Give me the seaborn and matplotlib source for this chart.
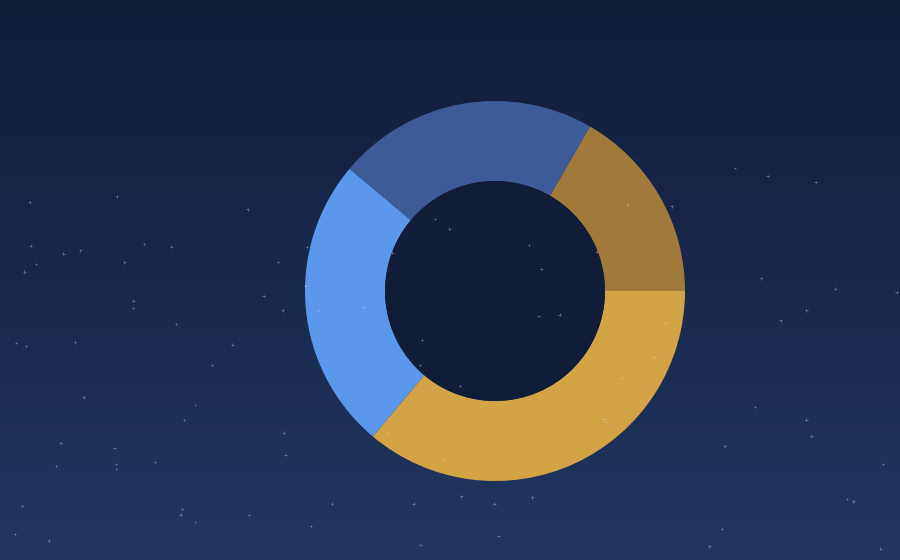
import numpy as np
import matplotlib
matplotlib.use("Agg")
import matplotlib.pyplot as plt
import seaborn as sns
from matplotlib.colors import LinearSegmentedColormap

# slice data, counter-clockwise from 3 o'clock
segments = ["Segment A", "Segment B", "Segment C", "Segment D"]
values = [60, 80, 90, 130]
slice_colors = ["#a0793b", "#3d5c97", "#5b98ec", "#d3a446"]

sns.set_theme(style="white")

W, H = 900, 560
fig = plt.figure(figsize=(9, 5.6), dpi=100)
ax = fig.add_axes([0, 0, 1, 1])
ax.set_xlim(0, W)
ax.set_ylim(0, H)
ax.set_aspect("equal")
ax.axis("off")

# night-sky gradient background
sky = LinearSegmentedColormap.from_list("sky", ["#213661", "#111c39"])
grad = np.linspace(0, 1, 256).reshape(-1, 1)
ax.imshow(grad, cmap=sky, extent=[0, W, 0, H], aspect="auto", origin="lower", zorder=0)

# donut
cx, cy = 495, H - 291
palette = sns.color_palette(slice_colors)
ax.pie(values, colors=palette, startangle=0, counterclock=True,
       radius=190, center=(cx, cy), frame=True,
       wedgeprops=dict(width=80, linewidth=0, antialiased=True))
ax.add_patch(plt.Circle((cx, cy), 110, color="#111c38", zorder=3, lw=0))
ax.set_xlim(0, W)
ax.set_ylim(0, H)
ax.axis("off")

# faint decorative stars (fixed seed, not data)
rng = np.random.default_rng(11)
n = 90
sx = rng.uniform(0, W, n)
sy = rng.uniform(0, H * 0.7, n)
ss = rng.uniform(1.5, 5, n)
sns.scatterplot(x=sx, y=sy, s=ss, color="#c9d4ee", alpha=0.45, marker="+",
                linewidth=0.6, legend=False, ax=ax, zorder=4)
ax.set_xlim(0, W)
ax.set_ylim(0, H)
ax.axis("off")

fig.savefig("out.png", dpi=100, facecolor="#111c39")
